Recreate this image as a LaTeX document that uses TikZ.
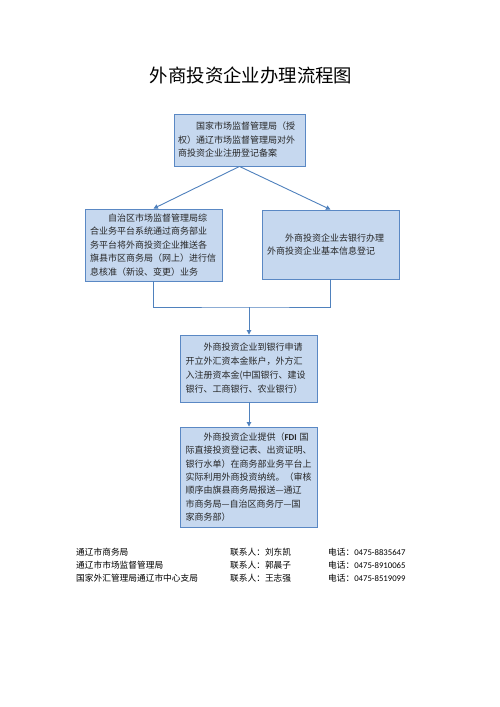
\documentclass[tikz,border=0pt]{standalone}
\usepackage{fontspec}
\setmainfont{Noto Sans CJK SC}
\newfontfamily\latinsans{Carlito}
\usetikzlibrary{arrows.meta}
\definecolor{boxfill}{HTML}{C6D8EF}
\definecolor{boxline}{HTML}{5A88C4}
\definecolor{connclr}{HTML}{4F81BD}
\begin{document}
\begin{tikzpicture}[x=1pt,y=-1pt,
  flowbox/.style={draw=boxline, line width=0.9pt, fill=boxfill, inner sep=0pt,
    align=left, font=\fontsize{9}{13.5}\selectfont, text=black!85},
  connline/.style={draw=connclr, line width=0.9pt},
  arr/.style={connline, -{Triangle[length=4.5pt,width=4.5pt]}},
  foot/.style={anchor=west, inner sep=0pt, font=\fontsize{8.7}{10}\selectfont}]
\useasboundingbox[fill=white] (0,0) rectangle (500,707);

\node[inner sep=0pt, font=\fontsize{18.4}{20}\selectfont] (title) at (251,75) {外商投资企业办理流程图};

\node[flowbox, minimum width=131pt, minimum height=52pt, text width=123pt] (b1) at (239.5,140)
  {\hspace*{2em}国家市场监督管理局（授\\权）通辽市场监督管理局对外\\商投资企业注册登记备案};

\node[flowbox, minimum width=137pt, minimum height=72pt, text width=127pt] (b2) at (153.5,245)
  {\hspace*{2em}自治区市场监督管理局综\\合业务平台系统通过商务部业\\务平台将外商投资企业推送各\\旗县市区商务局（网上）进行信\\息核准（新设、变更）业务};

\node[flowbox, minimum width=137pt, minimum height=69pt, text width=127pt] (b3) at (330.5,244.5)
  {\hspace*{2em}外商投资企业去银行办理\\外商投资企业基本信息登记\\[4pt]};

\node[flowbox, minimum width=137pt, minimum height=67pt, text width=127pt, font=\fontsize{9}{14}\selectfont] (b4) at (249,368.5)
  {\hspace*{2em}外商投资企业到银行申请\\开立外汇资本金账户，外方汇\\入注册资本金(中国银行、建设\\银行、工商银行、农业银行）};

\node[flowbox, minimum width=137pt, minimum height=100pt, text width=127pt, font=\fontsize{9}{13.3}\selectfont] (b5) at (249,477)
  {\hspace*{2em}外商投资企业提供（{\latinsans\bfseries FDI} 国\\际直接投资登记表、出资证明、\\银行水单）在商务部业务平台上\\实际利用外商投资纳统。（审核\\顺序由旗县商务局报送—通辽\\市商务局—自治区商务厅—国\\家商务部）};

\draw[arr] (b1.south) -- (b2.north);
\draw[arr] (b1.south) -- (b3.north);
\coordinate (mj) at (249,307);
\draw[connline] (b2.south) |- (mj) -| (b3.south);
\draw[arr] (mj) -- (b4.north);
\draw[arr] (b4.south) -- (b5.north);

\node[foot] (f11) at (76,552) {通辽市商务局};
\node[foot] (f21) at (76,565) {通辽市市场监督管理局};
\node[foot] (f31) at (76,578) {国家外汇管理局通辽市中心支局};
\node[foot] (f12) at (230,552) {联系人：刘东凯};
\node[foot] (f22) at (230,565) {联系人：郭晨子};
\node[foot] (f32) at (230,578) {联系人：王志强};
\node[foot] (f13) at (328,552) {电话：{\latinsans 0475-8835647}};
\node[foot] (f23) at (328,565) {电话：{\latinsans 0475-8910065}};
\node[foot] (f33) at (328,578) {电话：{\latinsans 0475-8519099}};
\end{tikzpicture}
\end{document}
